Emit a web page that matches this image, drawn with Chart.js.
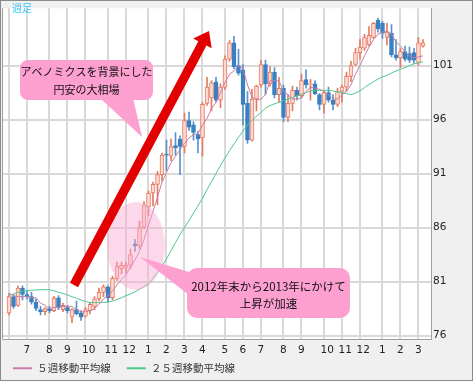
<!DOCTYPE html>
<html><head><meta charset="utf-8">
<script src="https://cdn.jsdelivr.net/npm/chart.js@4.4.0/dist/chart.umd.min.js"></script>
<style>html,body{margin:0;padding:0;background:#f0f0f0;}#wrap{position:relative;width:473px;height:381px;}canvas{display:block;}</style>
</head><body><div id="wrap"><canvas id="c" width="473" height="381"></canvas></div>
<script>
// Weekly USD/JPY candles, first week 2012-06-04 (index 0) to 2014-03-10 (index 92)
const opens  = [78.1,79.6,78.8,80.4,79.8,79.6,79.1,78.4,78.2,78.5,78.3,79.5,78.4,78.6,77.7,78.4,78.1,77.8,78.3,78.7,79.4,80.0,80.5,79.5,81.3,82.2,82.3,82.5,84.5,84.3,86.0,87.9,89.2,90.0,90.9,92.8,92.6,93.6,94.2,93.5,95.9,95.5,94.6,94.3,97.5,98.0,99.5,97.8,99.0,101.6,103.1,101.0,100.6,97.5,94.1,97.9,99.2,101.1,99.3,100.4,98.3,98.9,96.2,97.5,98.7,98.2,99.7,99.2,99.3,98.3,97.4,98.5,97.8,97.4,98.6,99.0,100.0,101.1,102.2,102.6,102.9,103.6,105.2,104.9,103.6,104.0,102.0,101.7,102.3,102.1,102.2,101.3,102.8];
const highs  = [79.9,79.8,80.6,80.6,80.2,80.0,79.4,78.7,78.6,78.7,79.6,79.7,79.0,78.8,78.5,79.2,78.3,78.6,79.0,79.6,80.4,80.7,80.6,81.5,82.8,82.8,82.8,84.0,84.9,86.6,88.4,89.4,90.2,91.2,92.9,94.1,94.2,94.8,94.5,96.6,96.7,95.8,94.9,97.6,99.9,99.6,99.9,99.3,101.9,103.3,103.7,102.5,101.1,98.6,98.8,99.2,101.5,101.5,100.9,100.8,99.9,99.2,98.3,99.1,99.0,100.2,100.6,99.7,99.6,98.4,98.6,99.0,98.3,98.9,99.2,100.4,101.4,102.6,103.4,103.9,104.6,105.0,105.4,105.1,104.9,104.8,103.4,102.6,102.8,102.7,102.6,103.6,103.4];
const lows   = [77.9,78.5,78.7,79.3,79.4,78.9,78.3,77.9,77.9,78.1,78.2,78.4,78.2,78.1,77.2,77.9,77.4,77.7,78.0,78.4,79.2,79.6,79.1,79.3,81.1,81.7,81.8,82.2,83.8,84.1,85.9,87.1,88.0,88.1,90.3,91.3,92.2,92.7,90.9,92.9,95.0,94.1,92.9,92.6,97.3,96.8,97.6,97.1,98.8,101.4,100.7,100.1,95.5,93.8,94.0,96.8,99.0,98.3,99.1,98.0,97.6,95.8,95.8,96.8,97.8,98.0,98.9,97.8,98.3,96.9,96.6,97.6,96.9,97.2,97.6,98.6,99.5,101.0,101.6,102.4,102.8,103.5,104.1,103.5,102.9,101.8,101.5,100.8,101.4,101.3,101.2,101.0,102.7];
const closes = [79.6,78.7,80.4,79.8,79.6,79.1,78.5,78.2,78.5,78.3,79.5,78.6,78.8,78.3,78.4,78.0,77.7,78.4,78.9,79.4,80.0,80.5,79.5,81.3,82.4,82.5,82.5,83.5,84.3,86.0,88.1,89.2,90.0,90.9,92.7,92.7,93.5,93.4,93.5,95.9,95.3,94.8,94.2,97.4,99.0,99.4,97.8,99.0,101.6,103.1,100.9,100.3,97.4,94.1,97.9,99.1,101.1,99.3,100.4,98.3,98.9,96.2,97.5,98.7,98.2,99.6,99.2,99.3,98.4,97.4,98.5,97.8,97.4,98.6,99.0,100.0,101.0,102.2,102.7,103.6,103.8,104.9,104.4,104.0,104.1,102.0,101.7,102.3,101.6,101.5,101.5,103.1,103.1];
// Moving averages
const ma5  = [79.9,79.7,79.6,79.6,79.6,79.5,79.5,79.0,78.8,78.5,78.6,78.6,78.7,78.7,78.7,78.4,78.2,78.2,78.3,78.5,78.9,79.4,79.7,80.1,80.7,81.2,81.6,82.4,83.0,83.8,84.9,86.2,87.5,88.8,90.2,91.1,92.0,92.6,93.2,93.8,94.3,94.6,94.7,95.5,96.1,97.0,97.6,98.5,99.4,100.2,100.5,101.0,100.7,99.2,98.1,97.8,97.9,98.3,99.6,99.6,99.6,98.6,98.3,97.9,97.9,98.0,98.6,99.0,98.9,98.8,98.6,98.3,97.9,97.9,98.3,98.6,99.2,100.2,101.0,101.9,102.7,103.4,103.9,104.1,104.2,103.9,103.2,102.8,102.3,101.9,101.7,101.8,101.9];
const ma25 = [79.7,79.85,80.0,80.1,80.15,80.2,80.22,80.25,80.25,80.25,80.15,80.0,79.9,79.75,79.6,79.45,79.3,79.15,79.06,79.05,79.05,79.07,79.1,79.2,79.35,79.5,79.7,79.85,80.05,80.3,80.55,80.8,81.3,81.85,82.45,83.1,83.85,84.6,85.35,86.0,86.65,87.35,88.0,88.7,89.5,90.25,91.0,91.75,92.45,93.1,93.75,94.35,94.95,95.5,95.95,96.3,96.65,97.05,97.3,97.45,97.6,97.75,97.9,98.05,98.2,98.35,98.5,98.65,98.7,98.7,98.7,98.7,98.65,98.55,98.5,98.4,98.3,98.45,98.65,98.95,99.25,99.5,99.75,99.95,100.1,100.3,100.5,100.65,100.8,101.0,101.15,101.25,101.35];
// First week of each month (index) and its month label
const monthTicks  = [0,4,9,13,17,22,26,31,35,39,43,48,52,56,61,65,70,74,78,83,87,91];
const monthLabels = ['','7','8','9','10','11','12','1','2','3','4','5','6','7','8','9','10','11','12','1','2','3'];
const yTicks = [76,81,86,91,96,101];
const seriesNames = ['５週移動平均線','２５週移動平均線'];

const UP_FILL='#fdd9d0', UP_LINE='#e47a64', DN='#3a7fc2', DN_WICK='#5a93cc';
const isUp = closes.map((c,i)=>c>=opens[i]);

const annot = {
  id:'annot',
  beforeDraw(chart){
    const {ctx, chartArea:a} = chart;
    ctx.save();
    ctx.fillStyle='#f0f0f0'; ctx.fillRect(0,0,chart.width,chart.height);
    ctx.fillStyle='#ffffff'; ctx.fillRect(a.left,a.top,a.right-a.left,a.bottom-a.top);
    ctx.restore();
  },
  afterLayout(chart){
    const lg = chart.legend;
    if(lg){ lg.top += 2.5; lg.bottom += 2.5; lg.left -= 6; }
    const xs = chart.scales.x;
    if(xs){ xs.bottom = xs.top + 20; xs.height = 20; }
  },
  afterDatasetsDraw(chart){
    const {ctx} = chart;
    ctx.save();
    ctx.fillStyle='rgba(250,168,210,0.45)';
    ctx.beginPath(); ctx.ellipse(136,246,29,44,0,0,Math.PI*2); ctx.fill();
    const x0=74,y0=285,tx=209,ty=31;
    const dx=tx-x0, dy=ty-y0, L=Math.hypot(dx,dy), ux=dx/L, uy=dy/L, nx=-uy, ny=ux;
    const hl=14, hw=10.5, sw=4.6;
    const bx=tx-ux*hl, by=ty-uy*hl;
    ctx.fillStyle='#e20000';
    ctx.beginPath();
    ctx.moveTo(x0+nx*sw,y0+ny*sw);
    ctx.lineTo(bx+nx*sw,by+ny*sw);
    ctx.lineTo(bx+nx*hw,by+ny*hw);
    ctx.lineTo(tx,ty);
    ctx.lineTo(bx-nx*hw,by-ny*hw);
    ctx.lineTo(bx-nx*sw,by-ny*sw);
    ctx.lineTo(x0-nx*sw,y0-ny*sw);
    ctx.closePath(); ctx.fill();
    const pink='#fd9fcf';
    function rr(x,y,w,h,r){ctx.beginPath();ctx.moveTo(x+r,y);ctx.arcTo(x+w,y,x+w,y+h,r);ctx.arcTo(x+w,y+h,x,y+h,r);ctx.arcTo(x,y+h,x,y,r);ctx.arcTo(x,y,x+w,y,r);ctx.closePath();}
    ctx.fillStyle=pink;
    rr(20,60,133,40,8); ctx.fill();
    ctx.beginPath(); ctx.moveTo(100,98); ctx.lineTo(133,98); ctx.lineTo(142,137); ctx.closePath(); ctx.fill();
    rr(187,268,163,50,10); ctx.fill();
    ctx.beginPath(); ctx.moveTo(189,272); ctx.lineTo(140,257); ctx.lineTo(189,295); ctx.closePath(); ctx.fill();
    ctx.fillStyle='#111';
    ctx.textAlign='center'; ctx.textBaseline='middle';
    ctx.font='11px "Noto Sans CJK JP"';
    ctx.fillText('アベノミクスを背景にした',86.5,72);
    ctx.fillText('円安の大相場',86.5,89.5);
    ctx.font='11.5px "Noto Sans CJK JP"';
    ctx.fillText('2012年末から2013年にかけて',268.5,286.5);
    ctx.fillText('上昇が加速',268.5,303.5);
    ctx.fillStyle='#3ec4f2'; ctx.font='10px "Noto Sans CJK JP"'; ctx.textAlign='left';
    ctx.fillText('週足',12,8);
    ctx.restore();
  },
  afterDraw(chart){
    const {ctx, chartArea:a} = chart;
    ctx.save();
    ctx.strokeStyle='#a0a0a0'; ctx.lineWidth=1;
    ctx.beginPath(); ctx.moveTo(a.left-0.5,a.top); ctx.lineTo(a.left-0.5,a.bottom+0.5); ctx.stroke();
    ctx.strokeStyle='#8a8a8a';
    ctx.strokeRect(0.5,0.5,chart.width-1,chart.height-1);
    ctx.restore();
  }
};

new Chart(document.getElementById('c'), {
  type:'bar',
  data:{
    datasets:[
      {type:'line',label:seriesNames[0],data:ma5.map((v,i)=>({x:i,y:v})),borderColor:'#c67ea6',backgroundColor:'#c67ea6',borderWidth:1,pointRadius:0,tension:0},
      {type:'line',label:seriesNames[1],data:ma25.map((v,i)=>({x:i,y:v})),borderColor:'#4fc88e',backgroundColor:'#4fc88e',borderWidth:1,pointRadius:0,tension:0},
      {type:'bar',label:'body',data:opens.map((o,i)=>({x:i,y:[o,closes[i]]})),barThickness:4,grouped:false,
        backgroundColor:isUp.map(u=>u?UP_FILL:DN),borderColor:isUp.map(u=>u?UP_LINE:DN),borderWidth:1,borderSkipped:false},
      {type:'bar',label:'wick',data:lows.map((l,i)=>({x:i,y:[l,highs[i]]})),barThickness:1,grouped:false,
        backgroundColor:isUp.map(u=>u?UP_LINE:DN_WICK),borderWidth:0}
    ]
  },
  options:{
    responsive:false, animation:false, events:[],
    layout:{padding:{left:3,top:2,right:0,bottom:0}},
    scales:{
      x:{type:'linear',min:-1.333,max:93.78,position:'bottom',offset:false,
        afterBuildTicks:(s)=>{s.ticks=monthTicks.map(v=>({value:v}));},
        afterFit:(s)=>{s.height=5.5;},
        grid:{color:'#d9d9d9',lineWidth:2,drawTicks:false,offset:false},
        border:{display:true,color:'#a0a0a0',width:1},
        ticks:{autoSkip:false,maxRotation:0,minRotation:0,align:'start',labelOffset:-3.5,padding:5,color:'#222',
          font:{family:'"DejaVu Sans"',size:10.5},callback:(v,idx)=>monthLabels[idx]}},
      y:{type:'linear',position:'right',min:75.68,max:106.3,
        afterBuildTicks:(s)=>{s.ticks=yTicks.map(v=>({value:v}));},
        afterFit:(s)=>{s.width=42;},
        grid:{color:'#d9d9d9',lineWidth:2,drawTicks:false},
        border:{display:true,color:'#a0a0a0',width:1},
        ticks:{padding:2,color:'#222',font:{family:'"DejaVu Sans"',size:10.5},callback:(v)=>String(v)}}
    },
    plugins:{
      tooltip:{enabled:false},
      legend:{display:true,position:'bottom',align:'start',
        labels:{usePointStyle:true,pointStyle:'line',pointStyleWidth:19,padding:16,color:'#333',
          font:{family:'"Noto Sans CJK JP"',size:10.5},
          filter:(item)=>item.datasetIndex<2,
          generateLabels:(chart)=>Chart.defaults.plugins.legend.labels.generateLabels(chart).map(l=>Object.assign(l,{lineWidth:2}))}}
    }
  },
  plugins:[annot]
});
</script></body></html>
